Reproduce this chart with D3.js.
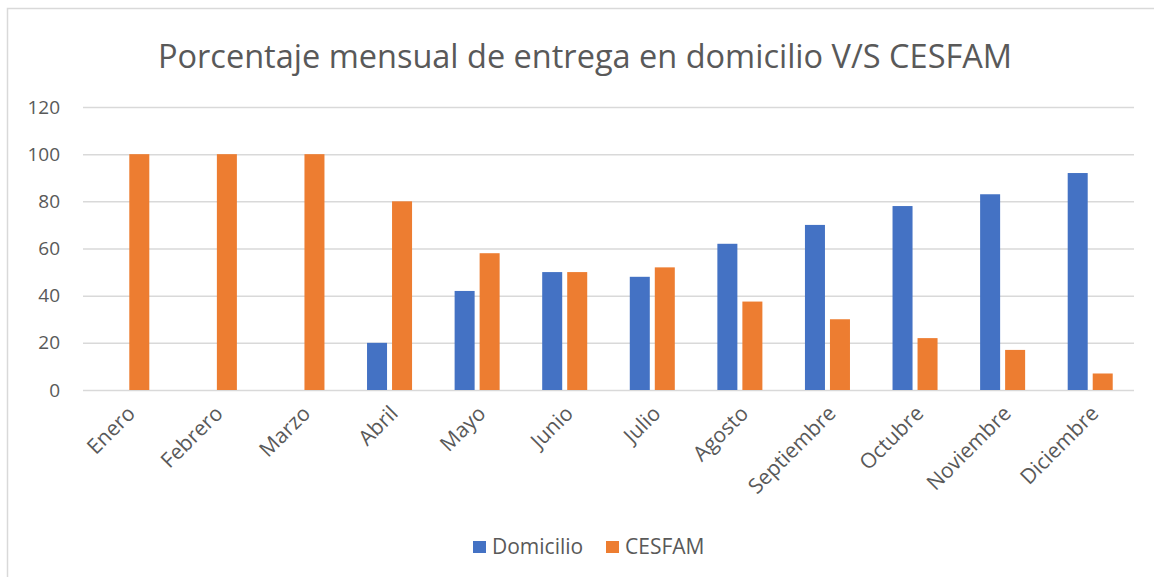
<!DOCTYPE html>
<html>
<head>
<meta charset="utf-8">
<script src="https://cdn.jsdelivr.net/npm/d3@7"></script>
<style>
  body { margin: 0; background: #fff; }
  text { font-family: 'Open Sans', sans-serif; fill: #595959; }
</style>
</head>
<body>
<div id="chart"></div>
<script>
const months = ['Enero', 'Febrero', 'Marzo', 'Abril', 'Mayo', 'Junio', 'Julio',
  'Agosto', 'Septiembre', 'Octubre', 'Noviembre', 'Diciembre']
const domicilio = [0, 0, 0, 20, 42, 50, 48, 62, 70, 78, 83, 92]
const cesfam = [100, 100, 100, 80, 58, 50, 52, 37.5, 30, 22, 17, 7]
const seriesNames = ['Domicilio', 'CESFAM']
const yTicks = [0, 20, 40, 60, 80, 100, 120]

const W = 1154
const H = 577
const margin = { top: 107, right: 20, bottom: 187, left: 83 }
const width = W - margin.left - margin.right
const height = H - margin.top - margin.bottom

const svg = d3
  .select('#chart')
  .append('svg')
  .attr('width', W)
  .attr('height', H)

// chart border
svg
  .append('rect')
  .attr('x', 7.5)
  .attr('y', 8.5)
  .attr('width', W + 20)
  .attr('height', H + 20)
  .attr('fill', 'none')
  .attr('stroke', '#d9d9d9')
  .attr('stroke-width', 1.5)

svg
  .append('text')
  .attr('x', 585)
  .attr('y', 68)
  .attr('text-anchor', 'middle')
  .attr('font-size', 32.5)
  .text('Porcentaje mensual de entrega en domicilio V/S CESFAM')

const g = svg
  .append('g')
  .attr('transform', 'translate(' + margin.left + ',' + margin.top + ')')

const x0 = d3
  .scaleBand()
  .domain(months)
  .range([0, width])
  .paddingInner(0.486)
  .paddingOuter(0.243)

const x1 = d3
  .scaleBand()
  .domain(seriesNames)
  .range([0, x0.bandwidth()])
  .paddingInner(0.2)

const y = d3
  .scaleLinear()
  .domain([0, 120])
  .range([height, 0])

const color = d3
  .scaleOrdinal()
  .domain(seriesNames)
  .range(['#4472c4', '#ed7d31'])

// gridlines + y labels
const yAxis = d3
  .axisLeft(y)
  .tickValues(yTicks)
  .tickSize(-width)
  .tickPadding(23)

g.append('g')
  .attr('class', 'y-axis')
  .call(yAxis)
  .call(ax => ax.select('.domain').remove())
  .call(ax => ax.selectAll('line').attr('stroke', '#d9d9d9').attr('stroke-width', 1.5))
  .call(ax => ax.selectAll('text').attr('font-size', 19).attr('fill', '#595959')
    .style('font-family', "'Open Sans', sans-serif"))

const rows = months.map((m, i) => ({ month: m, Domicilio: domicilio[i], CESFAM: cesfam[i] }))

g.append('g')
  .selectAll('g')
  .data(rows)
  .enter()
  .append('g')
  .attr('transform', d => 'translate(' + x0(d.month) + ',0)')
  .selectAll('rect')
  .data(d => seriesNames.map(s => ({ key: s, value: d[s] })))
  .enter()
  .append('rect')
  .attr('x', d => x1(d.key))
  .attr('width', x1.bandwidth())
  .attr('y', d => y(d.value))
  .attr('height', d => height - y(d.value))
  .attr('fill', d => color(d.key))

// x labels, rotated
g.append('g')
  .selectAll('text')
  .data(months)
  .enter()
  .append('text')
  .attr('transform', d => 'translate(' + (x0(d) + x0.bandwidth() / 2 - 1) + ',' + (height + 14) + ') rotate(-45)')
  .attr('text-anchor', 'end')
  .attr('dy', '0.72em')
  .attr('font-size', 21)
  .text(d => d)

// legend
const legend = svg
  .append('g')
  .attr('transform', 'translate(473,541)')

const legendX = d3.scaleOrdinal().domain(seriesNames).range([0, 133])

seriesNames.forEach(s => {
  legend
    .append('rect')
    .attr('x', legendX(s))
    .attr('y', 0)
    .attr('width', 13)
    .attr('height', 12)
    .attr('fill', color(s))
  legend
    .append('text')
    .attr('x', legendX(s) + 19)
    .attr('y', 13)
    .attr('font-size', 21)
    .text(s)
})
</script>
</body>
</html>
